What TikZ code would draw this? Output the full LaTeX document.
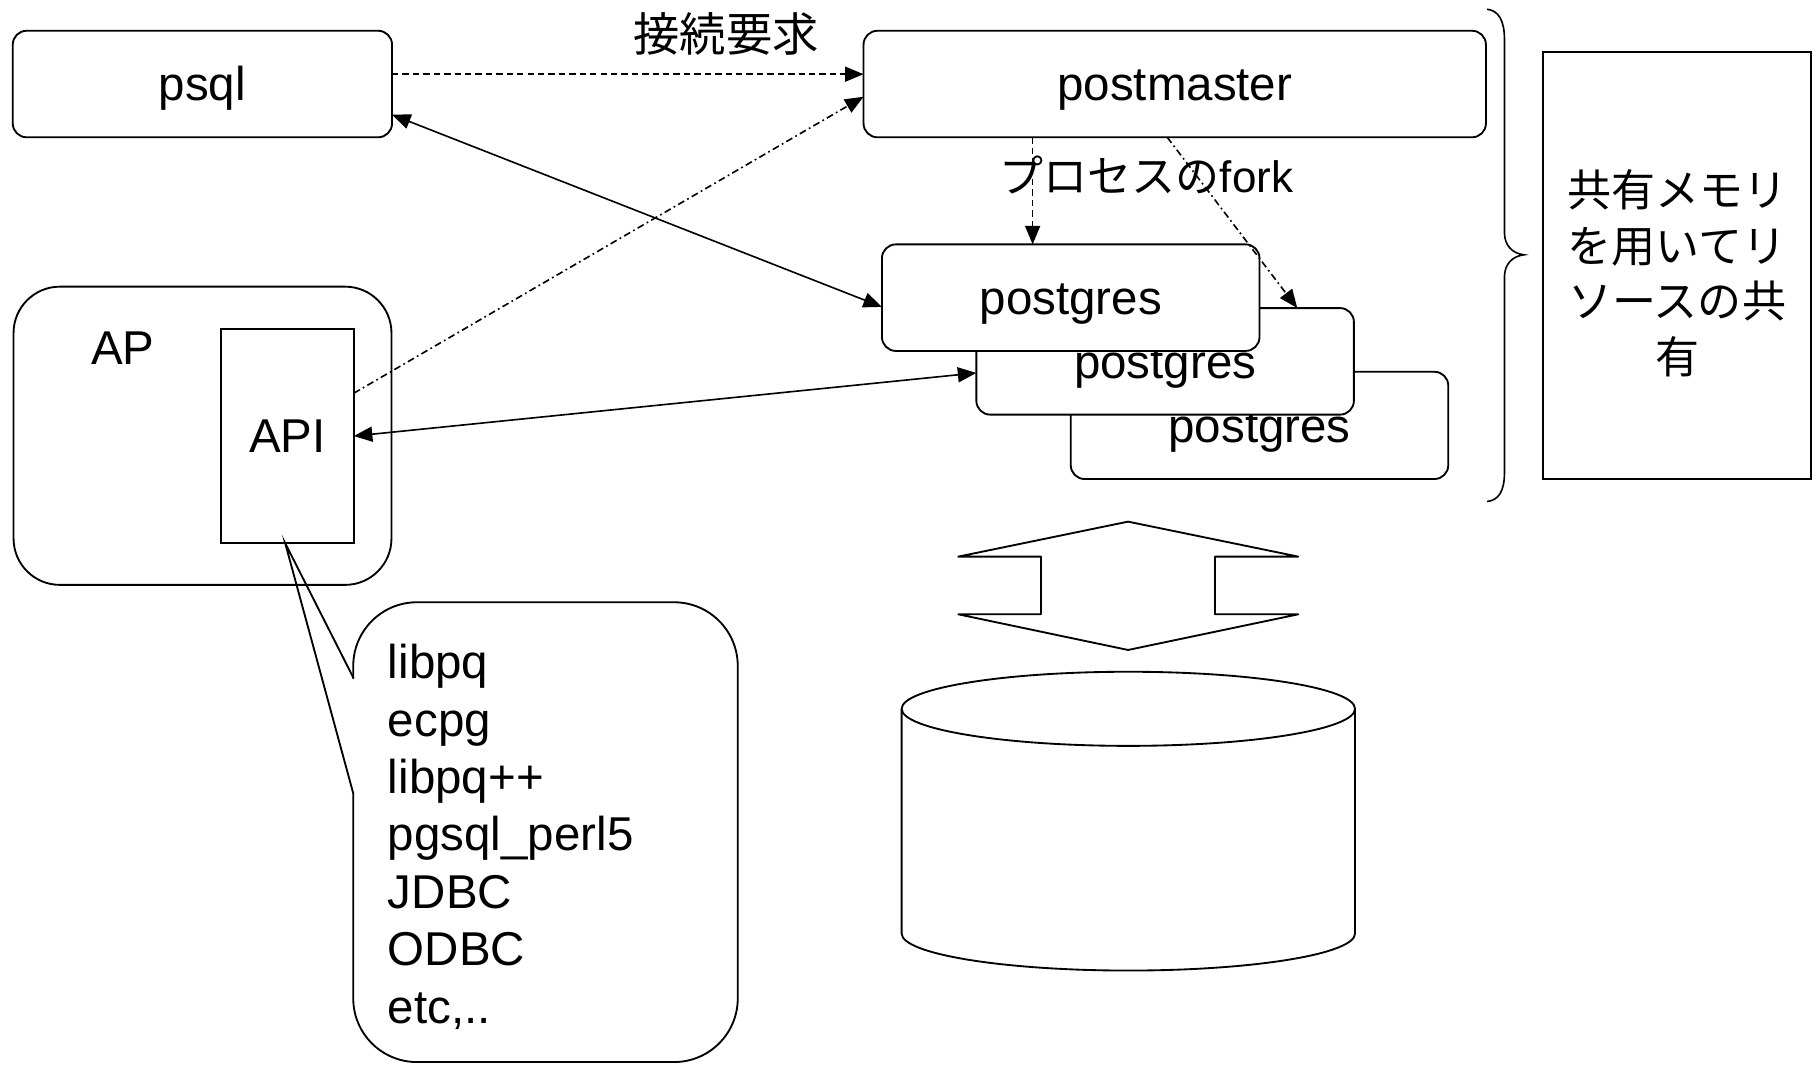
\documentclass[tikz,border=0pt]{standalone}
\usepackage{fontspec}
\setmainfont{Liberation Sans}
\newfontfamily\cjk{Noto Sans CJK JP}
\usetikzlibrary{arrows.meta,calc}

\begin{document}
\begin{tikzpicture}[x=1pt,y=-1pt,
  >={Triangle[length=16pt,width=13pt]},
  every node/.style={inner sep=0pt, outer sep=0pt},
  txt/.style={font=\fontsize{41}{49.6}\selectfont},
  jp/.style={font=\cjk\fontsize{38}{48}\selectfont},
  procbox/.style={draw, line width=1.6pt, rounded corners=12pt, fill=white,
    txt, text height=37pt, text depth=8pt},
  plainbox/.style={draw, line width=1.6pt, fill=white},
  conn/.style={line width=1.4pt},
  dashline/.style={conn, dash pattern=on 5.5pt off 3.5pt},
  dashdotline/.style={conn, dash pattern=on 6pt off 3pt on 1.5pt off 3pt},
  shape line/.style={line width=1.6pt, line join=round},
]
\useasboundingbox (0,0) rectangle (1568,919);

% client side
\node[procbox, minimum width=327.5pt, minimum height=92pt] (psql) at (174.75,72.55) {psql};
\node[draw, line width=1.6pt, rounded corners=40pt, minimum width=326.3pt,
      minimum height=257.5pt] (ap) at (174.85,376.25) {};
\node[txt, anchor=base] (aplabel) at (106,315) {AP};
\node[plainbox, txt, text height=37pt, text depth=8pt, minimum width=114.5pt,
      minimum height=185pt] (api) at (248.25,376.5) {API};

% server processes
\node[procbox, minimum width=537.4pt, minimum height=92pt] (postmaster) at (1014.3,72.55) {postmaster};
\node[procbox, minimum width=326pt, minimum height=92.6pt] (pg3) at (1087.5,367.3) {postgres};
\node[procbox, minimum width=326pt, minimum height=92pt] (pg2) at (1006,312) {postgres};
\node[procbox, minimum width=326pt, minimum height=92pt] (pg1) at (924.5,257) {postgres};

% shared memory
\node[plainbox, minimum width=231.7pt, minimum height=368.6pt] (shm) at (1447.85,229.3) {};
\node[jp, align=center] (shmtext) at (1448,236) {共有メモリ\\を用いてリ\\ソースの共\\有};

% brace grouping the server processes
\draw[line width=1.4pt]
  (1284,8) .. controls (1294,9) and (1299,18) .. (1299,34) -- (1299,201)
  .. controls (1299,212) and (1306,219) .. (1316,220)
  .. controls (1306,221) and (1299,228) .. (1299,239) -- (1299,408)
  .. controls (1299,424) and (1294,432) .. (1284,433);

% interface library callout
\node[draw, line width=1.6pt, rounded corners=55pt, minimum width=332pt,
      minimum height=397pt] (callout) at (471,718.5) {};
\node[txt, anchor=north west, align=left] (libs) at (335,556.25)
  {libpq\\ecpg\\libpq++\\pgsql\_perl5\\JDBC\\ODBC\\etc,..};
\coordinate (ptrtop) at ($(callout.north west)+(0,65)$);
\coordinate (ptrbot) at ($(callout.north west)+(0,165)$);
\coordinate (ptrtip) at ($(api.south)+(-2,0)$);
\fill[white] ($(ptrtop)+(-2.5,1)$) rectangle ($(ptrbot)+(2.5,-1)$);
\draw[line width=1.6pt, line join=miter] (ptrtop) -- (ptrtip) -- (ptrbot);

% labels
\node[font=\cjk\fontsize{40}{48}\selectfont] (reqlabel) at (627,29) {接続要求};
\node[jp] (forklabel) at (990,151) {プロセスの\rmfamily fork};

% connectors
\coordinate (reqstart) at ($(psql.east)+(0,-8.5)$);
\draw[dashline,->] (reqstart) -- (reqstart -| postmaster.west);
\draw[dashdotline,->] ($(api.east)+(0,-37)$) -- ($(postmaster.west)+(0,11)$);
\draw[conn,<->] ($(psql.east)+(0,26.5)$) -- ($(pg1.west)+(0,8)$);
\draw[conn,<->] (api.east) -- ($(pg2.west)+(0,10)$);
\coordinate (fork1) at ($(postmaster.south west)!0.2717!(postmaster.south east)$);
\draw[dashline,->] (fork1) -- (fork1 |- pg1.north);
\draw[dashdotline,->] ($(postmaster.south west)!0.488!(postmaster.south east)$)
  -- ($(pg2.north west)!0.85!(pg2.north east)$);

% two-way block arrow
\draw[shape line] (974,450.4) -- (1121,480.6) -- (1049,480.6) -- (1049,530.4)
  -- (1121,530.4) -- (974,561.2) -- (827.4,530.4) -- (898.8,530.4)
  -- (898.8,480.6) -- (827.4,480.6) -- cycle;

% database cylinder
\draw[shape line] (974.25,612) ellipse [x radius=195.75, y radius=32];
\draw[shape line] (778.5,612) -- (778.5,806)
  arc[start angle=180, end angle=0, x radius=195.75, y radius=32] -- (1170,612);
\end{tikzpicture}
\end{document}
